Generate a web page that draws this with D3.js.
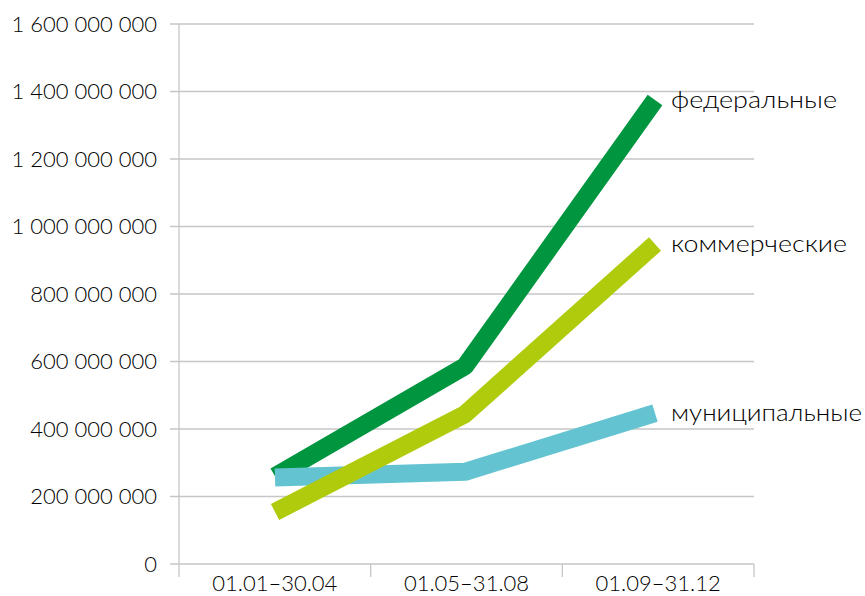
<!DOCTYPE html>
<html><head><meta charset="utf-8">
<script src="https://cdn.jsdelivr.net/npm/d3@7"></script>
<style>body{margin:0;background:#fff}svg{display:block}</style>
</head><body>
<script>
const categories = ["01.01–30.04", "01.05–31.08", "01.09–31.12"];
const federal = [260000000, 586000000, 1375000000];
const municipal = [256000000, 273000000, 447000000];
const commercial = [154000000, 444000000, 948000000];
const seriesNames = ["федеральные", "муниципальные", "коммерческие"];
const yTicks = [0, 200000000, 400000000, 600000000, 800000000, 1000000000, 1200000000, 1400000000, 1600000000];

(function () {
const W = 865, H = 596;
const svg = d3.select("body").append("svg").attr("width", W).attr("height", H);
const pLeft = 179, pRight = 754, pTop = 24, pBottom = 564;
const font = "Lato, 'Noto Sans', sans-serif";

const x = d3.scaleBand().domain(categories).range([pLeft, pRight]);
const xp = d3.scalePoint().domain(categories).range([pLeft + 96, pRight - 99]);
const y = d3.scaleLinear().domain([0, 1600000000]).range([pBottom, pTop]);

const fmt = v => d3.format(",")(v).replace(/,/g, " ");

svg.append("g").selectAll("line").data(yTicks).join("line")
  .attr("x1", pLeft - 9).attr("x2", pRight)
  .attr("y1", d => y(d)).attr("y2", d => y(d))
  .attr("stroke", "#c6c6c6").attr("stroke-width", 1.3);

svg.append("line").attr("x1", pLeft).attr("x2", pLeft).attr("y1", pTop).attr("y2", pBottom + 13)
  .attr("stroke", "#c6c6c6").attr("stroke-width", 1.3);
const catBounds = categories.map(c => x(c) + x.bandwidth());
svg.append("g").selectAll("line").data(catBounds).join("line")
  .attr("x1", d => d).attr("x2", d => d).attr("y1", pBottom).attr("y2", pBottom + 13)
  .attr("stroke", "#c6c6c6").attr("stroke-width", 1.3);

svg.append("g").selectAll("text").data(yTicks).join("text")
  .attr("x", 157).attr("y", d => y(d)).attr("dy", "0.36em")
  .attr("text-anchor", "end").attr("font-family", font).attr("font-size", 22)
  .attr("font-weight", 300)
  .attr("fill", "#000").text(fmt);

svg.append("g").selectAll("text").data(categories).join("text")
  .attr("x", d => x(d) + x.bandwidth() / 2).attr("y", 591)
  .attr("text-anchor", "middle").attr("font-family", font).attr("font-size", 22)
  .attr("font-weight", 300)
  .attr("fill", "#000").text(d => d);

const series = [
  {name: seriesNames[0], values: federal, color: "#009640", w: 166},
  {name: seriesNames[1], values: municipal, color: "#63c3d0", w: 191},
  {name: seriesNames[2], values: commercial, color: "#b0cb0b", w: 176}
];

const line = d3.line().x((d, i) => xp(categories[i])).y(d => y(d));

svg.append("g").selectAll("path").data(series).join("path")
  .attr("d", d => line(d.values)).attr("fill", "none")
  .attr("stroke", d => d.color).attr("stroke-width", 18)
  .attr("stroke-linejoin", "bevel").attr("stroke-linecap", "butt");

svg.append("g").selectAll("text").data(series).join("text")
  .attr("x", 671).attr("y", d => y(d.values[2]))
  .attr("dy", "0.33em").attr("font-family", font).attr("font-size", 24)
  .attr("font-weight", 300)
  .attr("textLength", d => d.w).attr("lengthAdjust", "spacingAndGlyphs")
  .attr("fill", "#000").text(d => d.name);
})();
</script>
</body></html>
